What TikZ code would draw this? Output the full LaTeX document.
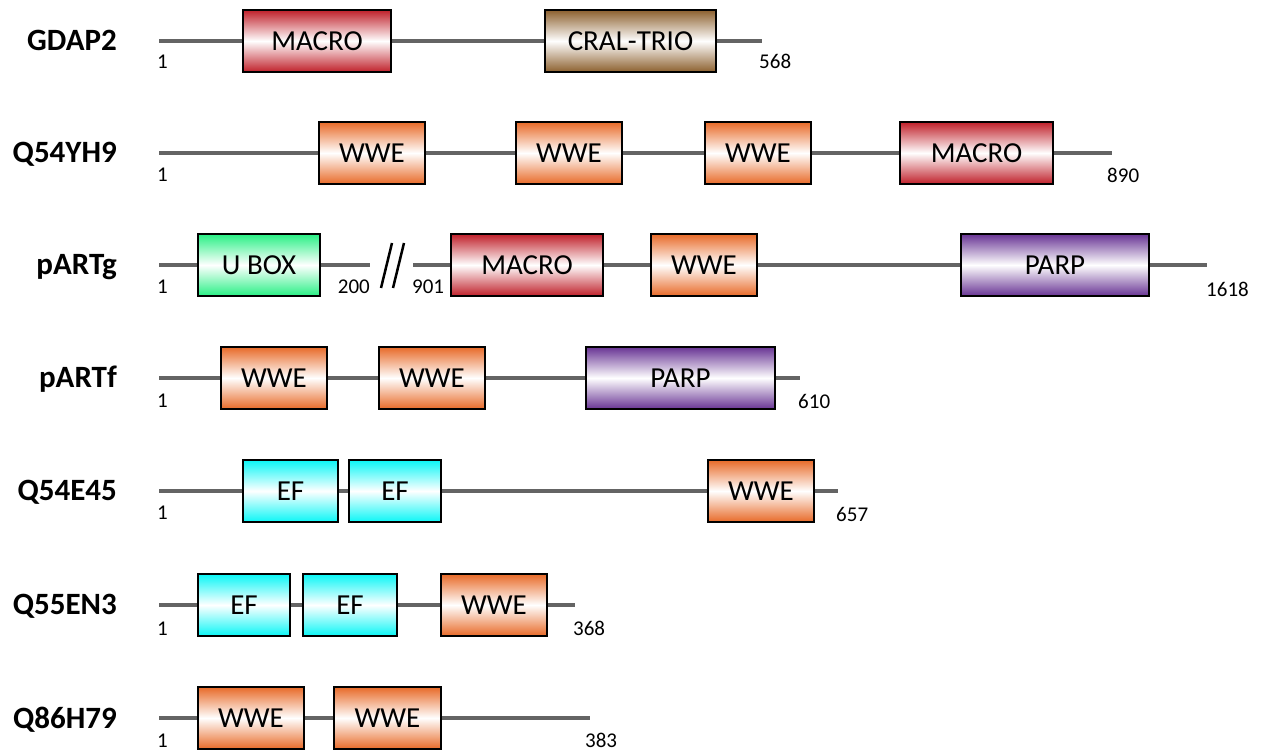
\documentclass[tikz,border=0pt]{standalone}
\usepackage{fontspec}
\setmainfont{Carlito}
\usetikzlibrary{backgrounds}
\definecolor{cmacro}{RGB}{192,32,42}
\definecolor{ccral}{RGB}{140,96,46}
\definecolor{cwwe}{RGB}{232,106,40}
\definecolor{cparp}{RGB}{104,52,148}
\definecolor{cubox}{RGB}{40,240,132}
\definecolor{cef}{RGB}{10,246,246}
\definecolor{cline}{RGB}{100,100,100}
\tikzset{
  bb/.style={line width=4pt, draw=cline},
  dom/.style={draw=black, line width=2.8pt, minimum height=62pt, inner sep=0pt,
    font=\fontsize{29}{33}\selectfont},
  macro/.style={top color=cmacro, bottom color=cmacro, middle color=white},
  cral/.style={top color=ccral, bottom color=ccral, middle color=white},
  wwe/.style={top color=cwwe, bottom color=cwwe, middle color=white},
  parp/.style={top color=cparp, bottom color=cparp, middle color=white},
  ubox/.style={top color=cubox, bottom color=cubox, middle color=white},
  ef/.style={top color=cef, bottom color=cef, middle color=white},
  num/.style={font=\fontsize{21}{24}\selectfont, inner sep=0pt},
  lab/.style={font=\bfseries\fontsize{31}{36}\selectfont, inner sep=0pt, anchor=base east},
  brk/.style={line width=2.5pt, draw=black},
}
\newcommand\pdom[6]{\node[dom,#5,minimum width={#3pt-#2pt}] (#1) at ({(#2+#3)/2},#4) {#6};}
\begin{document}
\begin{tikzpicture}[x=1pt,y=-1pt]
\useasboundingbox (0,0) rectangle (1267,751);
% Row 1 GDAP2
\node[lab] (la) at (117,51) {GDAP2};
\coordinate (a0) at (159,41); \coordinate (a9) at (762,41);
\pdom{a1}{243}{391}{41}{macro}{MACRO}
\pdom{a2}{545}{716}{41}{cral}{CRAL-TRIO}
\node[num, anchor=base west] (na0) at (157,69) {1};
\node[num, anchor=base west] (na9) at (759,69) {568};
% Row 2 Q54YH9
\node[lab] (lb) at (117,163) {Q54YH9};
\coordinate (b0) at (159,153); \coordinate (b9) at (1112,153);
\pdom{b1}{319}{425}{153}{wwe}{WWE}
\pdom{b2}{516}{622}{153}{wwe}{WWE}
\pdom{b3}{705}{811}{153}{wwe}{WWE}
\pdom{b4}{900}{1053}{153}{macro}{MACRO}
\node[num, anchor=base west] (nb0) at (157,182) {1};
\node[num, anchor=base west] (nb9) at (1107,183) {890};
% Row 3 pARTg
\node[lab] (lc) at (117,275) {pARTg};
\coordinate (c0) at (159,265); \coordinate (c5) at (370,265);
\coordinate (c6) at (413,265); \coordinate (c9) at (1207,265);
\pdom{c1}{198}{320}{265}{ubox}{U BOX}
\pdom{c2}{451}{603}{265}{macro}{MACRO}
\pdom{c3}{651}{757}{265}{wwe}{WWE}
\pdom{c4}{961}{1149}{265}{parp}{PARP}
\coordinate (k1) at (381,288); \coordinate (k2) at (392,243);
\coordinate (k3) at (393,288); \coordinate (k4) at (404,243);
\draw[brk] (k1) -- (k2);
\draw[brk] (k3) -- (k4);
\node[num, anchor=base west] (nc0) at (157,294) {1};
\node[num, anchor=base east] (nc5) at (370,294) {200};
\node[num, anchor=base west] (nc6) at (412,294) {901};
\node[num, anchor=base west] (nc9) at (1206,297) {1618};
% Row 4 pARTf
\node[lab] (ld) at (117,388) {pARTf};
\coordinate (d0) at (159,378); \coordinate (d9) at (800,378);
\pdom{d1}{221}{327}{378}{wwe}{WWE}
\pdom{d2}{379}{485}{378}{wwe}{WWE}
\pdom{d3}{586}{775}{378}{parp}{PARP}
\node[num, anchor=base west] (nd0) at (157,407) {1};
\node[num, anchor=base west] (nd9) at (798,409) {610};
% Row 5 Q54E45
\node[lab] (le) at (117,500) {Q54E45};
\coordinate (e0) at (159,491); \coordinate (e9) at (838,491);
\pdom{e1}{243}{338}{491}{ef}{EF}
\pdom{e2}{349}{441}{491}{ef}{EF}
\pdom{e3}{708}{814}{491}{wwe}{WWE}
\node[num, anchor=base west] (ne0) at (157,519) {1};
\node[num, anchor=base west] (ne9) at (836,521) {657};
% Row 6 Q55EN3
\node[lab] (lf) at (117,614) {Q55EN3};
\coordinate (f0) at (159,605); \coordinate (f9) at (575,605);
\pdom{f1}{198}{290}{605}{ef}{EF}
\pdom{f2}{303}{397}{605}{ef}{EF}
\pdom{f3}{441}{547}{605}{wwe}{WWE}
\node[num, anchor=base west] (nf0) at (157,635) {1};
\node[num, anchor=base west] (nf9) at (573,635) {368};
% Row 7 Q86H79
\node[lab] (lg) at (117,728) {Q86H79};
\coordinate (g0) at (159,718); \coordinate (g9) at (590,718);
\pdom{g1}{198}{304}{718}{wwe}{WWE}
\pdom{g2}{334}{441}{718}{wwe}{WWE}
\node[num, anchor=base west] (ng0) at (157,747) {1};
\node[num, anchor=base west] (ng9) at (585,747) {383};
% backbones
\begin{scope}[on background layer]
\draw[bb] (a0) -- (a1) -- (a2) -- (a9);
\draw[bb] (b0) -- (b1) -- (b2) -- (b3) -- (b4) -- (b9);
\draw[bb] (c0) -- (c1) -- (c5);
\draw[bb] (c6) -- (c2) -- (c3) -- (c4) -- (c9);
\draw[bb] (d0) -- (d1) -- (d2) -- (d3) -- (d9);
\draw[bb] (e0) -- (e1) -- (e2) -- (e3) -- (e9);
\draw[bb] (f0) -- (f1) -- (f2) -- (f3) -- (f9);
\draw[bb] (g0) -- (g1) -- (g2) -- (g9);
\end{scope}
\end{tikzpicture}
\end{document}
